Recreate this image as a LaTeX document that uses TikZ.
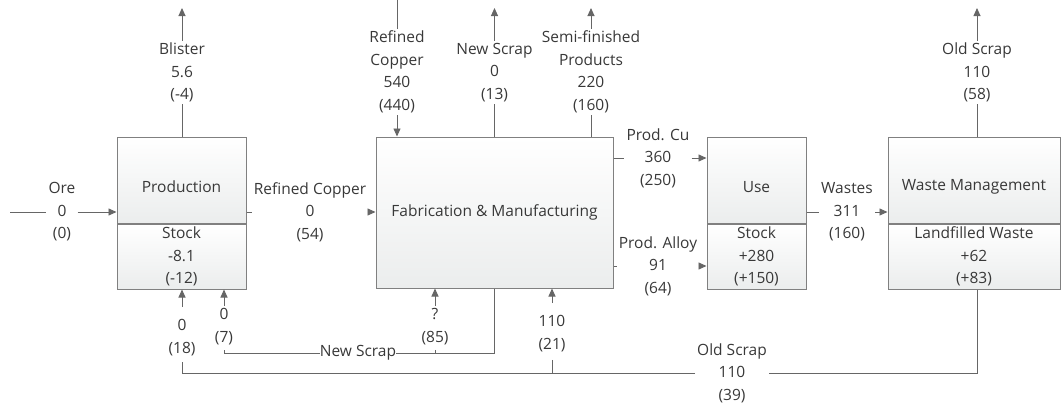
\documentclass[tikz,border=0pt]{standalone}
\usepackage{fontspec}
\setmainfont{Open Sans}
\usetikzlibrary{arrows.meta,positioning}

\definecolor{flowgray}{HTML}{666666}
\definecolor{boxgray}{HTML}{808080}
\definecolor{txtgray}{HTML}{383838}
\definecolor{boxfill}{HTML}{EBEDED}

\begin{document}
\begin{tikzpicture}[x=1pt,y=-1pt,
  every node/.style={font=\fontsize{15.5}{22.5}\selectfont,text=txtgray},
  process/.style={draw=boxgray,line width=1pt,top color=white,
    bottom color=boxfill,minimum height=86pt,inner sep=0pt},
  stockbox/.style={process,minimum height=65pt,align=center},
  flowlabel/.style={align=center,inner sep=2pt},
  line/.style={flowgray,line width=0.9pt},
  flow/.style={line,-{Triangle[length=8pt,width=7pt]}}]
  \useasboundingbox (0,0) rectangle (1061,408);

  % processes: upper part with the name, lower part with the stock change
  \node[process,minimum width=129pt] (prod) at (181.5,180) {};
  \node[stockbox,minimum width=129pt,below=0pt of prod] (prodstk)
    {Stock\\-8.1\\(-12)};
  \node[process,minimum width=237pt,minimum height=151pt] (fab)
    at (494.5,212.5) {};
  \node[process,minimum width=99pt] (use) at (756.5,180) {};
  \node[stockbox,minimum width=99pt,below=0pt of use] (usestk)
    {Stock\\+280\\(+150)};
  \node[process,minimum width=172pt] (wm) at (974,180) {};
  \node[stockbox,minimum width=172pt,below=0pt of wm] (wmstk)
    {Landfilled Waste\\+62\\(+83)};

  \node (prodtitle) at (181.5,187) {Production};
  \node (fabtitle) at (494.5,212) {Fabrication \& Manufacturing};
  \node (usetitle) at (756.5,187) {Use};
  \node (wmtitle) at (974,187) {Waste Management};

  % flow labels
  \node[flowlabel] (oreL) at (62,212) {Ore\\0\\(0)};
  \node[flowlabel] (rcL) at (310,212) {Refined Copper\\0\\(54)};
  \node[flowlabel] (blL) at (182,72.5) {Blister\\5.6\\(-4)};
  \node[flowlabel] (rcinL) at (397,72) {Refined\\Copper\\540\\(440)};
  \node[flowlabel] (nsupL) at (494.5,72.5) {New Scrap\\0\\(13)};
  \node[flowlabel] (sfL) at (591,72) {Semi-finished\\Products\\220\\(160)};
  \node[flowlabel] (cuL) at (658,158) {Prod. Cu\\360\\(250)};
  \node[flowlabel] (alL) at (658,266) {Prod. Alloy\\91\\(64)};
  \node[flowlabel] (wsL) at (847,212) {Wastes\\311\\(160)};
  \node[flowlabel] (osupL) at (977,72.5) {Old Scrap\\110\\(58)};
  \node[flowlabel] (prodoL) at (182,337.5) {0\\(18)};
  \node[flowlabel] (prodnL) at (224,326.5) {0\\(7)};
  \node[flowlabel] (fabnL) at (435,326.5) {?\\(85)};
  \node[flowlabel] (faboL) at (552,333.5) {110\\(21)};
  \node[inner sep=0pt] (nsL) at (358,353) {New Scrap};
  \node[flowlabel] (osL) at (732,373) {Old Scrap\\110\\(39)};

  \coordinate (orein) at (10,212);
  \coordinate (blout) at (182,8);
  \coordinate (rcin) at (397,0);
  \coordinate (nsout) at (494.5,8);
  \coordinate (sfout) at (591,8);
  \coordinate (osout) at (977,8);

  % horizontal flows
  \draw[line] (orein) -- (oreL.west);
  \draw[flow] (oreL.east) -- (prod.west |- oreL);
  \draw[line] (prod.east |- rcL) -- (rcL.west);
  \draw[flow] (rcL.east) -- (fab.west |- rcL);
  \draw[line] (fab.east |- cuL) -- (cuL.west);
  \draw[flow] (cuL.east) -- (use.west |- cuL);
  \draw[line] (fab.east |- alL) -- (alL.west);
  \draw[flow] (alL.east) -- (usestk.west |- alL);
  \draw[line] (use.east |- wsL) -- (wsL.west);
  \draw[flow] (wsL.east) -- (wm.west |- wsL);

  % flows leaving or entering at the top
  \draw[line] (prod.north -| blL) -- (blL.south);
  \draw[flow] (blL.north) -- (blout);
  \draw[line] (rcin) -- (rcinL.north);
  \draw[flow] (rcinL.south) -- (fab.north -| rcinL);
  \draw[line] (fab.north) -- (nsupL.south);
  \draw[flow] (nsupL.north) -- (nsout);
  \draw[line] (fab.north -| sfL) -- (sfL.south);
  \draw[flow] (sfL.north) -- (sfout);
  \draw[line] (wm.north -| osupL) -- (osupL.south);
  \draw[flow] (osupL.north) -- (osout);

  % new scrap loop
  \draw[line] (fab.south) |- (nsL.east);
  \draw[line,shorten >=3pt] (nsL.west) -| (prodnL.south);
  \draw[line,shorten <=3pt] (fabnL.south) -- (fabnL.south |- nsL);
  \draw[flow] (prodnL.north) -- (prodstk.south -| prodnL);
  \draw[flow] (fabnL.north) -- (fab.south -| fabnL);

  % old scrap loop
  \draw[line] (wmstk.south -| osupL) |- (osL.east);
  \draw[line,shorten >=4pt] (osL.west) -| (prodoL.south);
  \draw[line,shorten <=6pt] (faboL.south) -- (faboL.south |- osL);
  \draw[flow,shorten <=10pt] (prodoL.north) -- (prodstk.south -| prodoL);
  \draw[flow,shorten <=10pt] (faboL.north) -- (fab.south -| faboL);
\end{tikzpicture}
\end{document}
